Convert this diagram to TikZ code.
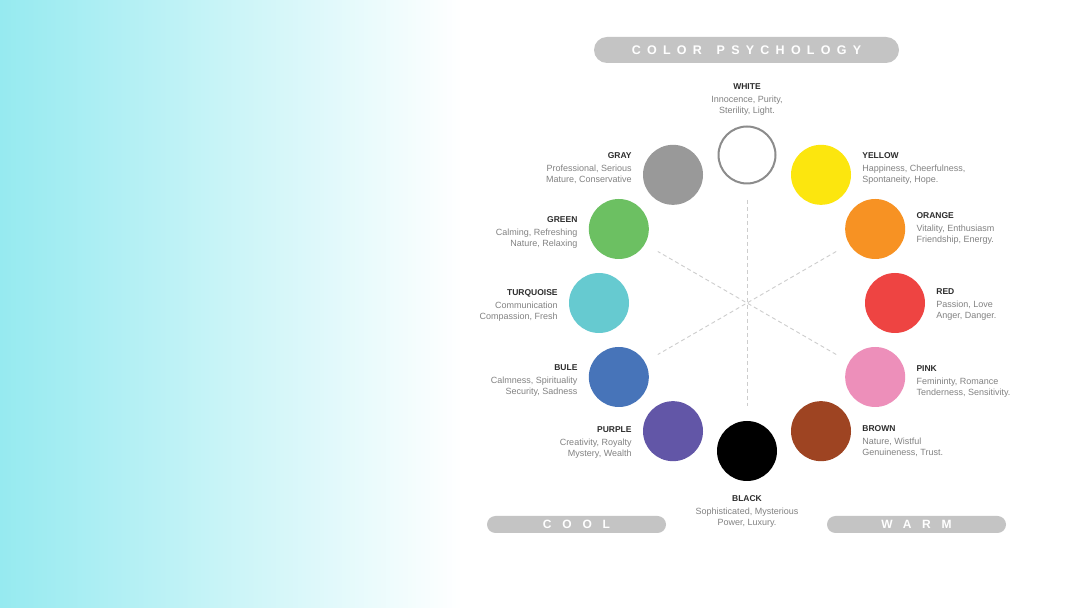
\documentclass[tikz,border=0pt]{standalone}
\usepackage{fontspec}
\setmainfont{Liberation Sans}
\usetikzlibrary{positioning}

\definecolor{bgcyan}{RGB}{150,234,240}
\definecolor{bgmid}{RGB}{206,232,235}
\definecolor{pillgray}{RGB}{196,196,196}
\definecolor{ink}{RGB}{45,45,45}
\definecolor{desc}{RGB}{130,130,130}
\definecolor{spokegray}{RGB}{205,205,205}
\definecolor{cwhite}{RGB}{140,140,140}
\definecolor{cyellow}{RGB}{252,230,14}
\definecolor{corange}{RGB}{247,146,35}
\definecolor{cred}{RGB}{238,68,66}
\definecolor{cpink}{RGB}{237,143,186}
\definecolor{cbrown}{RGB}{158,68,34}
\definecolor{cpurple}{RGB}{98,86,167}
\definecolor{cblue}{RGB}{71,116,185}
\definecolor{cturq}{RGB}{102,202,208}
\definecolor{cgreen}{RGB}{108,192,98}
\definecolor{cgray}{RGB}{153,153,153}

\newcommand{\cname}[1]{{\color{ink}\fontsize{8.5}{10}\selectfont\bfseries #1}\\[2pt]}

\begin{document}
\begin{tikzpicture}[
  x=1pt,y=1pt,
  dot/.style={circle, minimum size=60pt, inner sep=0pt},
  lbl/.style={inner sep=0pt, text=desc, font=\fontsize{9}{11}\selectfont},
  pillbox/.style={fill=pillgray, text=white, inner sep=0pt, font=\fontsize{12.5}{14}\selectfont\bfseries},
  spoke/.style={draw=spokegray, dash pattern=on 4pt off 3pt, line width=0.9pt}
]
\useasboundingbox (0,0) rectangle (1080,608);
\fill[white] (0,0) rectangle (1080,608);
\shade[left color=bgcyan, middle color=bgmid, right color=white] (0,0) rectangle (462,608);

% title and groups
\node[pillbox, rounded corners=13pt, minimum width=305pt, minimum height=26pt] (title) at (746.5,558) {\addfontfeature{LetterSpace=50}COLOR\hspace{5pt} PSYCHOLOGY};
\node[pillbox, rounded corners=8.5pt, minimum width=179pt, minimum height=17pt, font=\fontsize{12}{14}\selectfont\bfseries] (cool) at (576.5,83.5) {\addfontfeature{LetterSpace=90}COOL};
\node[pillbox, rounded corners=8.5pt, minimum width=179pt, minimum height=17pt, font=\fontsize{12}{14}\selectfont\bfseries] (warm) at (916.5,83.5) {\addfontfeature{LetterSpace=90}WARM};

% wheel
\coordinate (c) at (747,305);
\foreach \a in {90,30,-30}{\draw[spoke] ([shift={(\a:103)}]c) -- ([shift={(\a+180:103)}]c);}

\node[dot, draw=cwhite, line width=2pt, minimum size=57pt] (white) at ([shift={(90:148)}]c) {};
\node[dot, fill=cyellow] (yellow) at ([shift={(60:148)}]c) {};
\node[dot, fill=corange] (orange) at ([shift={(30:148)}]c) {};
\node[dot, fill=cred] (red) at ([shift={(0:148)}]c) {};
\node[dot, fill=cpink] (pink) at ([shift={(-30:148)}]c) {};
\node[dot, fill=cbrown] (brown) at ([shift={(-60:148)}]c) {};
\node[dot, fill=black] (black) at ([shift={(-90:148)}]c) {};
\node[dot, fill=cpurple] (purple) at ([shift={(-120:148)}]c) {};
\node[dot, fill=cblue] (blue) at ([shift={(-150:148)}]c) {};
\node[dot, fill=cturq] (turq) at ([shift={(180:148)}]c) {};
\node[dot, fill=cgreen] (green) at ([shift={(150:148)}]c) {};
\node[dot, fill=cgray] (gray) at ([shift={(120:148)}]c) {};

% labels
\node[lbl, align=center, above=10pt of white] (whiteL) {\cname{WHITE}Innocence, Purity,\\Sterility, Light.};
\node[lbl, align=center, below=14pt of black] (blackL) {\cname{BLACK}Sophisticated, Mysterious\\Power, Luxury.};
\node[lbl, align=left, right=11pt of yellow, yshift=6pt] (yellowL) {\cname{YELLOW}Happiness, Cheerfulness,\\Spontaneity, Hope.};
\node[lbl, align=left, right=11pt of orange, yshift=1pt] (orangeL) {\cname{ORANGE}Vitality, Enthusiasm\\Friendship, Energy.};
\node[lbl, align=left, right=11pt of red, yshift=-2pt] (redL) {\cname{RED}Passion, Love\\Anger, Danger.};
\node[lbl, align=left, right=11pt of pink, yshift=-5pt] (pinkL) {\cname{PINK}Femininty, Romance\\Tenderness, Sensitivity.};
\node[lbl, align=left, right=11pt of brown, yshift=-10pt] (brownL) {\cname{BROWN}Nature, Wistful\\Genuineness, Trust.};
\node[lbl, align=right, left=11pt of gray, yshift=7pt] (grayL) {\cname{GRAY}Professional, Serious\\Mature, Conservative};
\node[lbl, align=right, left=11pt of green, yshift=-3pt] (greenL) {\cname{GREEN}Calming, Refreshing\\Nature, Relaxing};
\node[lbl, align=right, left=11pt of turq, yshift=-2pt] (turqL) {\cname{TURQUOISE}Communication\\Compassion, Fresh};
\node[lbl, align=right, left=11pt of blue, yshift=-4pt] (blueL) {\cname{BULE}Calmness, Spirituality\\Security, Sadness};
\node[lbl, align=right, left=11pt of purple, yshift=-11pt] (purpleL) {\cname{PURPLE}Creativity, Royalty\\Mystery, Wealth};
\end{tikzpicture}
\end{document}
